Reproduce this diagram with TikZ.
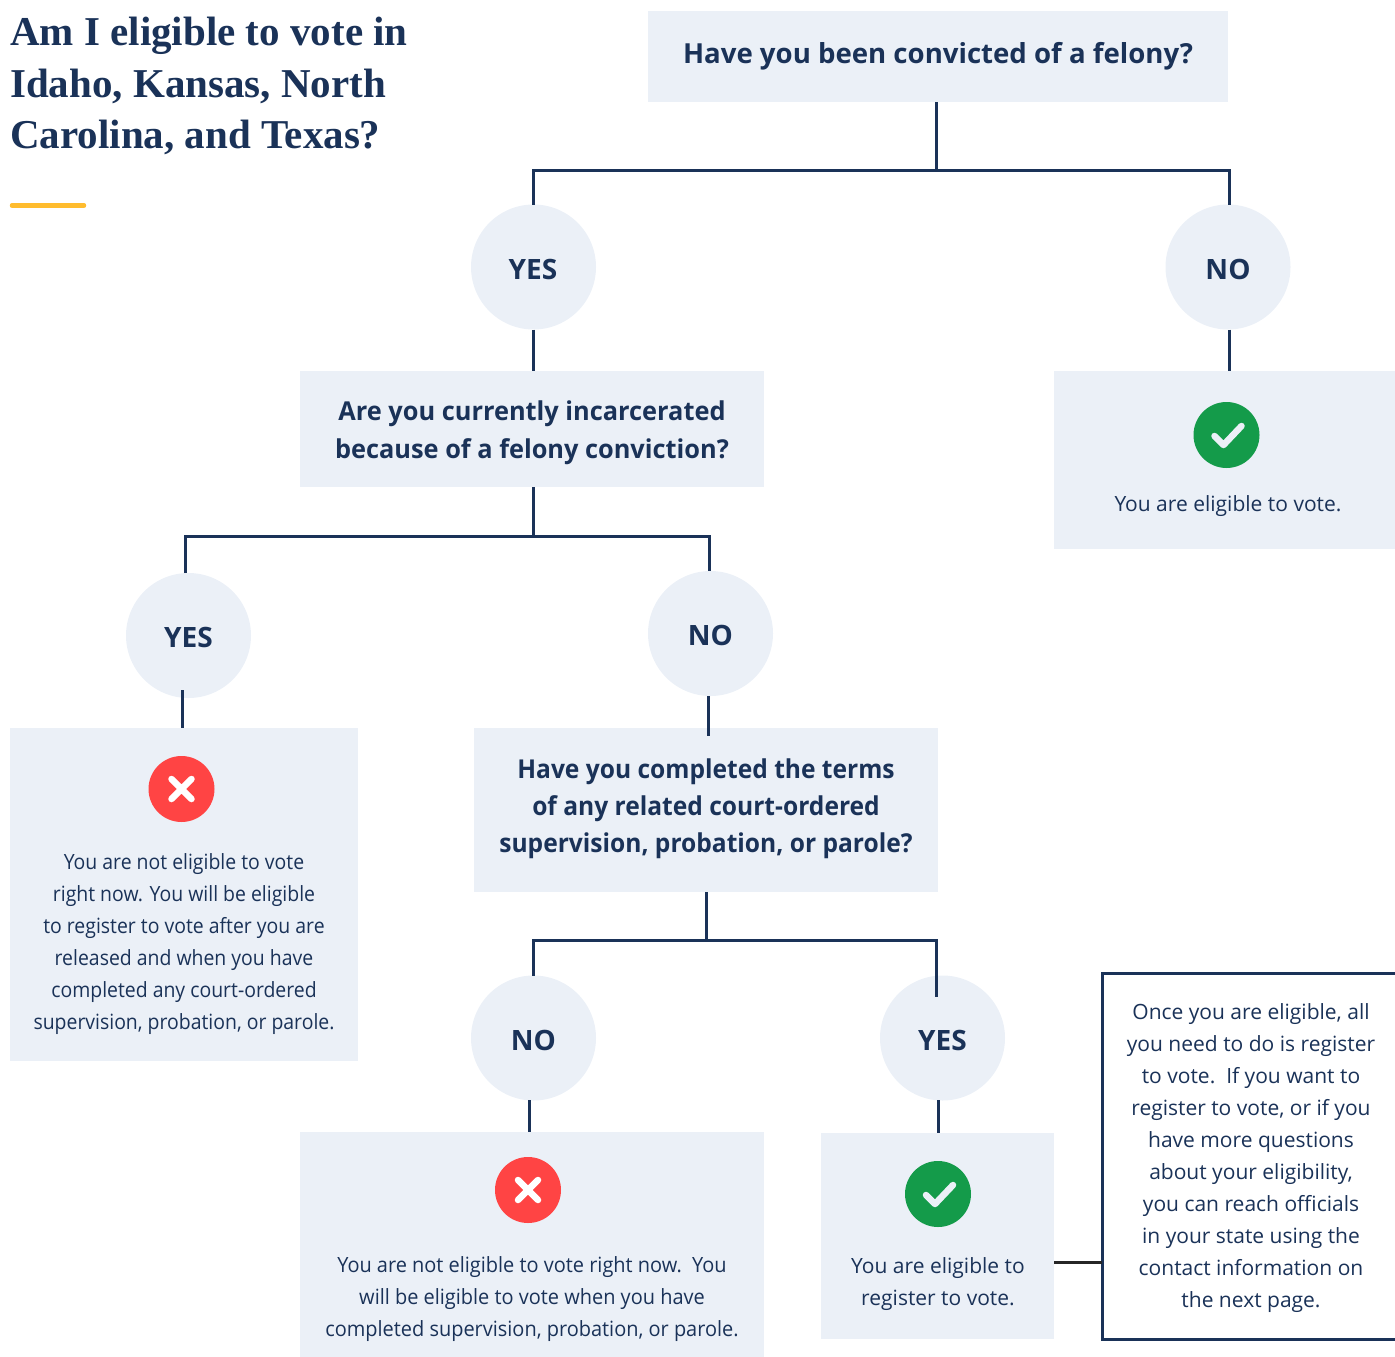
\documentclass[tikz,border=0pt]{standalone}
\usepackage{fontspec}
\setmainfont{Open Sans}[BoldFont=* Bold]
\newfontfamily\titlefont{Liberation Serif}[BoldFont=* Bold]
\definecolor{navy}{HTML}{1A3258}
\definecolor{panelc}{HTML}{EBF0F7}
\definecolor{okgreen}{HTML}{149B4A}
\definecolor{nored}{HTML}{FF4444}
\definecolor{rulegold}{HTML}{FFBC2E}
\tikzset{
  panel/.style={fill=panelc,draw=none,inner sep=0pt,outer sep=0pt,anchor=north west},
  bubble/.style={circle,fill=panelc,draw=none,minimum size=125pt,inner sep=0pt,outer sep=0pt},
  bubbletext/.style={text=navy,inner sep=0pt,font=\fontsize{28}{30}\selectfont\bfseries},
  conn/.style={draw=navy,line width=3pt},
  head/.style={text=navy,align=center,inner sep=0pt,font=\fontsize{26}{#1}\selectfont\bfseries},
  body/.style={text=navy,align=center,inner sep=0pt,font=\fontsize{21}{32}\selectfont},
  badge/.style={circle,draw=none,minimum size=66pt,inner sep=0pt,outer sep=0pt},
  mark stroke/.style={draw=#1,line width=6.5pt,line cap=round,line join=round},
}
\newcommand{\checkmarkat}[1]{\draw[mark stroke=panelc] ([shift={(-12,1)}]#1.center) -- ([shift={(-3,10)}]#1.center) -- ([shift={(15,-9)}]#1.center);}
\newcommand{\crossat}[1]{\draw[mark stroke=white] ([shift={(-10,-10)}]#1.center) -- ([shift={(10,10)}]#1.center) ([shift={(-10,10)}]#1.center) -- ([shift={(10,-10)}]#1.center);}
\begin{document}
\begin{tikzpicture}[x=1pt,y=-1pt]
\useasboundingbox (0,0) rectangle (1395,1357);
% title
\node[anchor=north west,inner sep=0pt,text=navy,align=left,font=\titlefont\fontsize{41}{51.5}\selectfont\bfseries] (title) at (10,17) {Am I eligible to vote in\\Idaho, Kansas, North\\Carolina, and Texas?};
\draw[draw=rulegold,line width=4.5pt,line cap=round] (12,205.5) coordinate (ra) -- (84,205.5) coordinate (rb);
% panels
\node[panel,minimum width=580pt,minimum height=91pt] (q1) at (648,11) {};
\node[panel,minimum width=464pt,minimum height=116pt] (q2) at (300,371) {};
\node[panel,minimum width=341pt,minimum height=178pt] (r1) at (1054,371) {};
\node[panel,minimum width=348pt,minimum height=333pt] (r2) at (10,728) {};
\node[panel,minimum width=464pt,minimum height=164pt] (q3) at (474,728) {};
\node[panel,minimum width=464pt,minimum height=225pt] (r3) at (300,1132) {};
\node[panel,minimum width=233pt,minimum height=206pt] (r4) at (821,1133) {};
\node[panel,fill=white,draw=navy,line width=3pt,minimum width=310pt,minimum height=366pt] (note) at (1102,973) {};
% bubbles
\node[bubble] (yes1) at (533.5,267) {}; \node[bubbletext] (yes1t) at (533,269) {YES};
\node[bubble] (no1) at (1228,267) {}; \node[bubbletext] (no1t) at (1228,269) {NO};
\node[bubble] (yes2) at (188.5,635.5) {}; \node[bubbletext] (yes2t) at (188.5,637) {YES};
\node[bubble] (no2) at (710.5,633.5) {}; \node[bubbletext] (no2t) at (710.5,635) {NO};
\node[bubble] (no3) at (533.5,1038) {}; \node[bubbletext] (no3t) at (533.5,1040) {NO};
\node[bubble] (yes3) at (942.5,1038) {}; \node[bubbletext] (yes3t) at (942.5,1040) {YES};
% junctions
\coordinate (j1) at (936.5,170);
\coordinate (e1) at (1229.5,170);
\coordinate (j2) at (533.5,536);
\coordinate (w2) at (185,536);
\coordinate (e2) at (709,536);
\coordinate (j3) at (706.5,940.5);
\coordinate (e3) at (936.5,940.5);
\coordinate (c3) at (936.5,997);
\coordinate (d1) at (182.5,690);
\coordinate (d2) at (708,736);
\coordinate (d3) at (529.5,1100);
\coordinate (d4) at (938.5,1100);
% connectors
\draw[conn] (q1.south -| j1) -- (j1);
\draw[conn] (yes1.north) |- (e1) -- (e1 |- no1.north);
\draw[conn] (yes1.south) -- (yes1.south |- q2.north);
\draw[conn] (e1 |- no1.south) -- (e1 |- r1.north);
\draw[conn] (q2.south -| j2) -- (j2);
\draw[conn] (w2 |- yes2.north) -- (w2) -- (e2) -- (e2 |- no2.north);
\draw[conn] (d1) -- (d1 |- r2.north);
\draw[conn] (d2 |- no2.south) -- (d2);
\draw[conn] (q3.south -| j3) -- (j3);
\draw[conn] (no3.north) |- (e3) -- (c3);
\draw[conn] (d3) -- (d3 |- r3.north);
\draw[conn] (d4) -- (d4 |- r4.north);
\coordinate (n1) at (1054,1262);
\draw[draw=black!85,line width=3pt] (n1) -- (n1 -| note.west);
% headings
\node[head=37.5,font=\fontsize{27.6}{37.5}\selectfont\bfseries] (q1t) at (938,56) {Have you been convicted of a felony?};
\node[head=38,font=\fontsize{26}{38}\selectfont\bfseries\addfontfeature{FakeStretch=0.975}] (q2t) at (532,433) {Are you currently incarcerated\\because of a felony conviction?};
\node[head=37,font=\fontsize{26}{37}\selectfont\bfseries\addfontfeature{FakeStretch=0.945}] (q3t) at (706,809) {Have you completed the terms\\of any related court-ordered\\supervision, probation, or parole?};
% badges
\node[badge,fill=okgreen] (b1) at (1226.5,435) {}; \checkmarkat{b1}
\node[badge,fill=nored] (b2) at (181.5,789) {}; \crossat{b2}
\node[badge,fill=nored] (b3) at (528,1190) {}; \crossat{b3}
\node[badge,fill=okgreen] (b4) at (938,1194) {}; \checkmarkat{b4}
% body text
\node[body] (r1t) at (1228,506) {You are eligible to vote.};
\node[body,font=\fontsize{21}{32}\selectfont\addfontfeature{FakeStretch=0.925}] (r2t) at (184,944) {You are not eligible to vote\\right now. You will be eligible\\to register to vote after you are\\released and when you have\\completed any court-ordered\\supervision, probation, or parole.};
\node[body,font=\fontsize{21}{32}\selectfont\addfontfeature{FakeStretch=0.95}] (r3t) at (532,1299) {You are not eligible to vote right now.\ \ You\\will be eligible to vote when you have\\completed supervision, probation, or parole.};
\node[body] (r4t) at (938,1284.5) {You are eligible to\\register to vote.};
\node[body] (notet) at (1251,1158) {Once you are eligible, all\\you need to do is register\\to vote.\ \ If you want to\\register to vote, or if you\\have more questions\\about your eligibility,\\you can reach officials\\in your state using the\\contact information on\\the next page.};
\end{tikzpicture}
\end{document}
